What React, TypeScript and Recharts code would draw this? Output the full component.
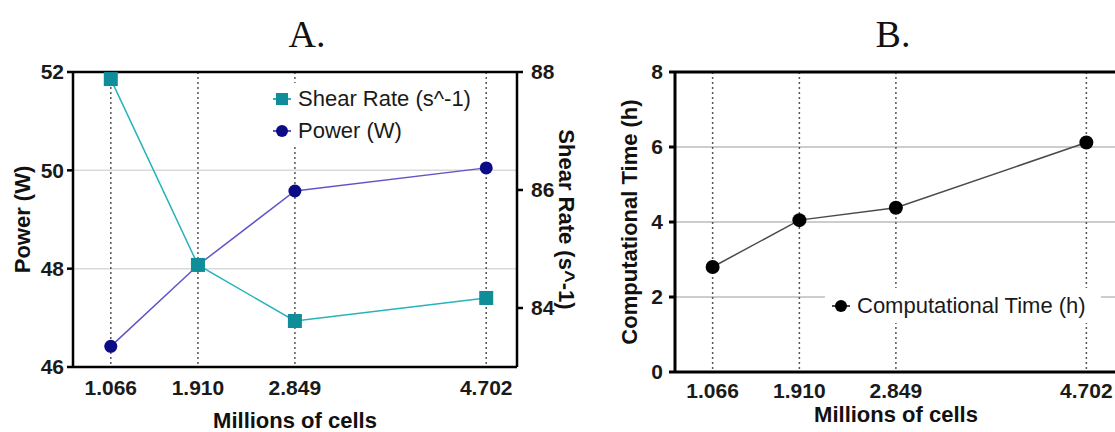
import React from 'react';
import {
  LineChart,
  Line,
  XAxis,
  YAxis,
  CartesianGrid,
  Legend,
  ReferenceLine,
} from 'recharts';

// x positions shared by both panels (millions of cells)
const cells = [1.066, 1.91, 2.849, 4.702];
const powerW = [46.42, 48.07, 49.58, 50.05];
const shearRate = [87.88, 84.73, 83.78, 84.17];
const compTimeH = [2.8, 4.05, 4.38, 6.12];

const cellDomain = [0.7, 5.0];
const powerTicks = [46, 48, 50, 52];
const shearTicks = [84, 86, 88];
const shearDomain = [83, 88];
const timeTicks = [0, 2, 4, 6, 8];

const dataA = cells.map((c, i) => ({ cells: c, power: powerW[i], shear: shearRate[i] }));
const dataB = cells.map((c, i) => ({ cells: c, time: compTimeH[i] }));

const FONT = '"Liberation Sans", Arial, Helvetica, sans-serif';

const markers: Record<string, { shape: 'square' | 'circle'; fill: string }> = {
  shear: { shape: 'square', fill: '#0f8d98' },
  power: { shape: 'circle', fill: '#0c0c86' },
  time: { shape: 'circle', fill: '#000' },
};
const legendOrder = ['shear', 'power', 'time'];

const tickStyle = { fontSize: 21, fontWeight: 700, fill: '#1a1a1a' };
const axisTitle = { fontSize: 22, fontWeight: 700, fill: '#111' };

const SquareDot = (props: any) => {
  const { cx, cy, index } = props;
  if (cx == null || cy == null) return <g key={`sq-${index}`} />;
  return <rect key={`sq-${index}`} x={cx - 7} y={cy - 7} width={14} height={14} fill={markers.shear.fill} />;
};

const LegendBox = ({ payload, rowHeight }: any) => {
  const items = [...(payload ?? [])].sort(
    (a: any, b: any) => legendOrder.indexOf(a.dataKey) - legendOrder.indexOf(b.dataKey)
  );
  return (
    <div style={{ background: '#fff', padding: '0 6px 0 7px', fontFamily: FONT, fontSize: 22, color: '#1a1a1a' }}>
      {items.map((entry: any) => {
        const m = markers[entry.dataKey];
        return (
          <div key={entry.dataKey} style={{ display: 'flex', alignItems: 'center', height: rowHeight }}>
            <svg width={18} height={18} style={{ flex: 'none' }}>
              <line x1={0} y1={9} x2={18} y2={9} stroke={entry.color} strokeWidth={2} />
              {m.shape === 'square' ? (
                <rect x={3} y={3} width={12} height={12} fill={m.fill} />
              ) : (
                <circle cx={9} cy={9} r={6} fill={m.fill} />
              )}
            </svg>
            <span style={{ marginLeft: 7, whiteSpace: 'nowrap' }}>{entry.value}</span>
          </div>
        );
      })}
    </div>
  );
};

const Title = ({ text, center }: { text: string; center: number }) => (
  <div
    style={{
      position: 'absolute',
      left: center - 50,
      top: 14,
      width: 100,
      textAlign: 'center',
      fontFamily: '"Liberation Serif", "Times New Roman", serif',
      fontSize: 38,
      lineHeight: '40px',
      color: '#111',
    }}
  >
    {text}
  </div>
);

export default function App() {
  return (
    <div
      style={{
        position: 'absolute',
        left: 0,
        top: 0,
        width: 1115,
        height: 432,
        overflow: 'hidden',
        background: '#fff',
        fontFamily: FONT,
      }}
    >
      <Title text="A." center={307} />
      <Title text="B." center={893} />

      {/* Panel A: power and shear rate */}
      <div style={{ position: 'absolute', left: 0, top: 0 }}>
        <LineChart width={600} height={432} data={dataA} margin={{ top: 72, right: 0, bottom: 0, left: 0 }}>
          <CartesianGrid yAxisId="left" vertical={false} stroke="#d9d9d9" strokeWidth={1.5} />
          <CartesianGrid yAxisId="left" horizontal={false} stroke="#555" strokeDasharray="2 3" strokeWidth={1.5} />
          <XAxis
            dataKey="cells"
            type="number"
            domain={cellDomain}
            ticks={cells}
            tickFormatter={(v: number) => v.toFixed(3)}
            height={65}
            axisLine={{ stroke: '#000', strokeWidth: 2.5 }}
            tickLine={false}
            tickMargin={7}
            tick={tickStyle}
            label={{ value: 'Millions of cells', position: 'insideBottom', offset: 4, ...axisTitle }}
          />
          <YAxis
            yAxisId="left"
            domain={[powerTicks[0], powerTicks[powerTicks.length - 1]]}
            ticks={powerTicks}
            width={73}
            axisLine={{ stroke: '#000', strokeWidth: 2.5 }}
            tickLine={{ stroke: '#000', strokeWidth: 2.5 }}
            tickMargin={3}
            tick={tickStyle}
            label={{ value: 'Power (W)', angle: -90, position: 'insideLeft', offset: 22, ...axisTitle, style: { textAnchor: 'middle' } }}
          />
          <YAxis
            yAxisId="right"
            orientation="right"
            domain={shearDomain}
            ticks={shearTicks}
            width={83}
            axisLine={{ stroke: '#000', strokeWidth: 2.5 }}
            tickLine={{ stroke: '#000', strokeWidth: 2.5 }}
            tickMargin={8}
            tick={tickStyle}
            label={{ value: 'Shear Rate (s^-1)', angle: 90, position: 'insideRight', offset: 33, ...axisTitle, style: { textAnchor: 'middle' } }}
          />
          <ReferenceLine yAxisId="left" y={powerTicks[powerTicks.length - 1]} stroke="#000" strokeWidth={2.5} />
          <Legend
            layout="horizontal"
            align="center"
            verticalAlign="middle"
            wrapperStyle={{ left: 266, top: 83, width: 214, height: 'auto' }}
            content={(p: any) => <LegendBox {...p} rowHeight={32} />}
          />
          <Line
            yAxisId="left"
            dataKey="power"
            name="Power (W)"
            stroke="#5f55c9"
            strokeWidth={1.5}
            dot={{ r: 6.5, fill: markers.power.fill, stroke: 'none' }}
            isAnimationActive={false}
          />
          <Line
            yAxisId="right"
            dataKey="shear"
            name="Shear Rate (s^-1)"
            stroke="#25b3bc"
            strokeWidth={1.5}
            dot={SquareDot}
            isAnimationActive={false}
          />
        </LineChart>
      </div>

      {/* Panel B: computational time */}
      <div style={{ position: 'absolute', left: 580, top: 0 }}>
        <LineChart width={540} height={432} data={dataB} margin={{ top: 72, right: 3, bottom: 0, left: 0 }}>
          <CartesianGrid vertical={false} stroke="#bdbdbd" strokeWidth={1.5} />
          <CartesianGrid horizontal={false} stroke="#555" strokeDasharray="2 3" strokeWidth={1.5} />
          <XAxis
            dataKey="cells"
            type="number"
            domain={cellDomain}
            ticks={cells}
            tickFormatter={(v: number) => v.toFixed(3)}
            height={60}
            axisLine={{ stroke: '#000', strokeWidth: 3 }}
            tickLine={false}
            tickMargin={5}
            tick={tickStyle}
            label={{ value: 'Millions of cells', position: 'insideBottom', offset: 10, ...axisTitle }}
          />
          <YAxis
            domain={[timeTicks[0], timeTicks[timeTicks.length - 1]]}
            ticks={timeTicks}
            width={95}
            axisLine={{ stroke: '#000', strokeWidth: 3 }}
            tickLine={{ stroke: '#000', strokeWidth: 3 }}
            tickMargin={6}
            tick={tickStyle}
            label={{ value: 'Computational Time (h)', angle: -90, position: 'insideLeft', offset: 49, ...axisTitle, style: { textAnchor: 'middle' } }}
          />
          <ReferenceLine y={timeTicks[timeTicks.length - 1]} stroke="#000" strokeWidth={3} />
          <Legend
            layout="horizontal"
            align="center"
            verticalAlign="middle"
            wrapperStyle={{ left: 245, top: 288, width: 276, height: 'auto' }}
            content={(p: any) => <LegendBox {...p} rowHeight={35} />}
          />
          <Line
            dataKey="time"
            name="Computational Time (h)"
            stroke="#4a4a4a"
            strokeWidth={1.5}
            dot={{ r: 7, fill: markers.time.fill, stroke: 'none' }}
            isAnimationActive={false}
          />
        </LineChart>
      </div>
    </div>
  );
}
